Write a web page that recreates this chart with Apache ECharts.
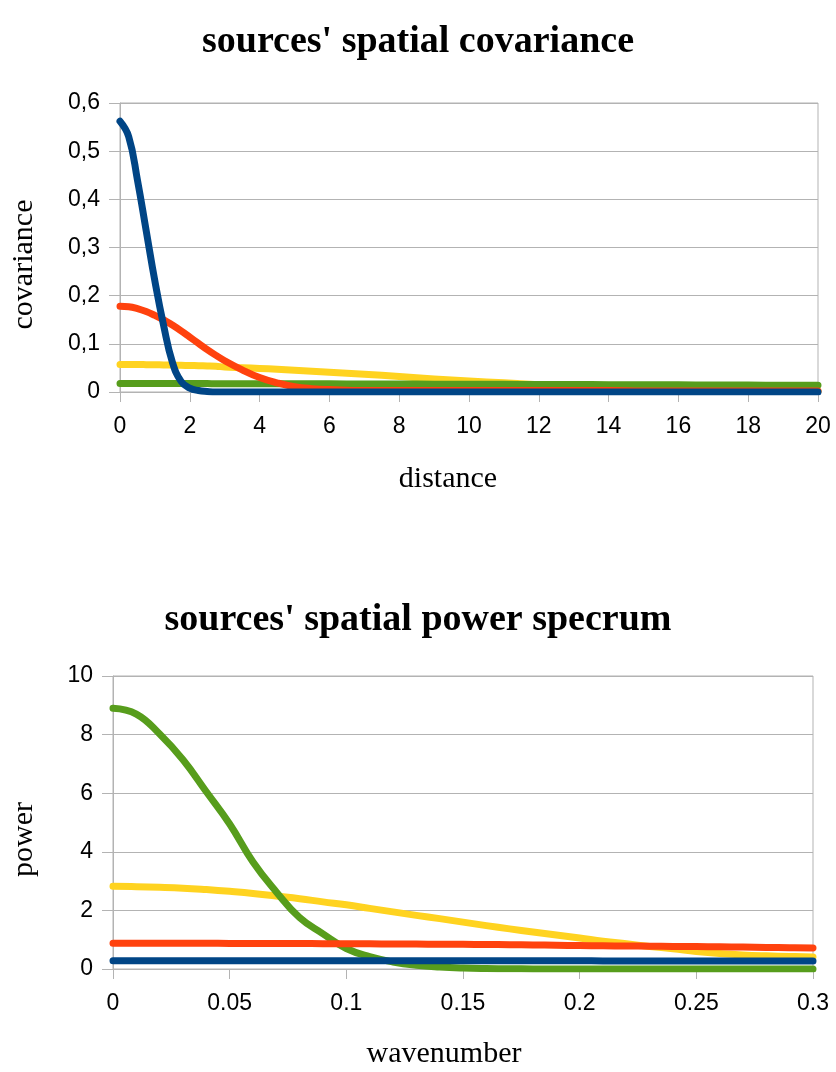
<!DOCTYPE html>
<html>
<head>
<meta charset="utf-8">
<script src="https://cdn.jsdelivr.net/npm/echarts@6/dist/echarts.min.js"></script>
<style>
    html, body { margin: 0; padding: 0; background: #fff; }
    #chart { width: 836px; height: 1072px; }
</style>
</head>
<body>
<div id="chart"></div>
<script>
// top chart: covariance vs distance
const distance = [0, 0.25, 0.5, 0.75, 1, 1.25, 1.5, 1.75, 2, 2.25, 2.5, 2.75, 3, 3.5, 4, 4.5, 5, 5.5, 6, 7, 8, 9, 10, 11, 12, 13, 14, 15, 16, 17, 18, 19, 20];
const covYellow = [0.057, 0.057, 0.057, 0.0568, 0.0565, 0.0562, 0.0558, 0.0553, 0.055, 0.0545, 0.054, 0.0533, 0.052, 0.0505, 0.049, 0.047, 0.045, 0.043, 0.041, 0.037, 0.032, 0.027, 0.023, 0.019, 0.015, 0.012, 0.010, 0.007, 0.005, 0.004, 0.003, 0.002, 0.0015];
const covGreen = [0.0175, 0.0175, 0.0175, 0.0175, 0.0175, 0.0175, 0.0175, 0.0174, 0.0174, 0.0174, 0.0174, 0.0173, 0.0173, 0.0173, 0.0172, 0.0171, 0.0171, 0.017, 0.0169, 0.0168, 0.0165, 0.0163, 0.0161, 0.0159, 0.0157, 0.0155, 0.0153, 0.015, 0.0148, 0.0146, 0.0143, 0.0141, 0.0138];
const covOrange = [0.178, 0.177, 0.173, 0.167, 0.159, 0.150, 0.139, 0.127, 0.114, 0.101, 0.088, 0.076, 0.065, 0.046, 0.030, 0.019, 0.011, 0.007, 0.005, 0.003, 0.003, 0.003, 0.003, 0.003, 0.003, 0.003, 0.003, 0.002, 0.002, 0.002, 0.002, 0.002, 0.002];
const covBlue = [0.562, 0.53, 0.44, 0.335, 0.23, 0.138, 0.062, 0.022, 0.008, 0.003, 0.001, 0, 0, 0, 0, 0, 0, 0, 0, 0, 0, 0, 0, 0, 0, 0, 0, 0, 0, 0, 0, 0, 0];

// bottom chart: power vs wavenumber
const wavenumber = [0, 0.01, 0.02, 0.03, 0.04, 0.05, 0.06, 0.07, 0.08, 0.09, 0.1, 0.11, 0.12, 0.13, 0.14, 0.15, 0.16, 0.17, 0.18, 0.19, 0.2, 0.21, 0.22, 0.23, 0.24, 0.25, 0.26, 0.27, 0.28, 0.29, 0.3];
const powYellow = [2.82, 2.81, 2.79, 2.76, 2.71, 2.65, 2.58, 2.49, 2.40, 2.29, 2.19, 2.07, 1.95, 1.83, 1.72, 1.60, 1.48, 1.37, 1.26, 1.16, 1.06, 0.95, 0.86, 0.77, 0.69, 0.6, 0.53, 0.48, 0.45, 0.43, 0.41];
const powGreen = [8.9, 8.7, 8.02, 7.14, 6.05, 4.95, 3.65, 2.63, 1.75, 1.2, 0.7, 0.42, 0.24, 0.13, 0.07, 0.035, 0.017, 0.008, 0.004, 0.002, 0.002, 0.001, 0.001, 0, 0, 0, 0, 0, 0, 0, 0];
const powOrange = [0.88, 0.88, 0.88, 0.878, 0.876, 0.874, 0.872, 0.87, 0.868, 0.865, 0.862, 0.858, 0.854, 0.85, 0.846, 0.842, 0.836, 0.83, 0.822, 0.812, 0.80, 0.792, 0.786, 0.78, 0.772, 0.764, 0.756, 0.748, 0.738, 0.728, 0.718];
const powBlue = [0.28, 0.28, 0.28, 0.28, 0.28, 0.28, 0.28, 0.28, 0.28, 0.28, 0.28, 0.28, 0.28, 0.28, 0.28, 0.28, 0.28, 0.28, 0.278, 0.278, 0.278, 0.277, 0.277, 0.276, 0.276, 0.275, 0.275, 0.274, 0.274, 0.273, 0.273];

const colors = { yellow: "#ffd320", green: "#579d1c", orange: "#ff420e", blue: "#004586" };
const gridGray = "#b3b3b3";

const chart = echarts.init(document.getElementById("chart"));

function pairs(xs, ys) {
    return xs.map((x, i) => [x, ys[i]]);
}

function line(name, xs, ys, color, idx) {
    return {
        name: name,
        type: "line",
        xAxisIndex: idx,
        yAxisIndex: idx,
        data: pairs(xs, ys),
        showSymbol: false,
        smooth: 0.45,
        lineStyle: { color: color, width: 7, cap: "round", join: "round" },
        itemStyle: { color: color },
        z: 2,
    };
}

const labelStyle = { color: "#000", fontFamily: "Liberation Sans", fontSize: 23 };
const nameStyle = { color: "#000", fontFamily: "Liberation Serif", fontSize: 30 };

function xAxis(idx, max, interval, name, fmt, gap, pad) {
    return {
        type: "value", gridIndex: idx, min: 0, max: max, interval: interval,
        name: name, nameLocation: "middle", nameGap: gap,
        nameTextStyle: Object.assign({ padding: pad }, nameStyle),
        axisLine: { show: true, lineStyle: { color: gridGray } },
        axisTick: { show: true, length: 10, lineStyle: { color: gridGray } },
        axisLabel: Object.assign({ margin: 23, formatter: fmt }, labelStyle),
        splitLine: { show: false },
    };
}

function yAxis(idx, max, interval, name, fmt, gap, pad) {
    return {
        type: "value", gridIndex: idx, min: 0, max: max, interval: interval,
        name: name, nameLocation: "middle", nameGap: gap,
        nameTextStyle: Object.assign({ padding: pad }, nameStyle),
        axisLine: { show: true, lineStyle: { color: gridGray } },
        axisTick: { show: true, length: 11, lineStyle: { color: gridGray } },
        axisLabel: Object.assign({ margin: 20, formatter: fmt }, labelStyle),
        splitLine: { show: true, lineStyle: { color: gridGray, width: 1 } },
    };
}

const titleStyle = { color: "#000", fontFamily: "Liberation Serif", fontWeight: "bold", fontSize: 38 };

chart.setOption({
    animation: false,
    backgroundColor: "#fff",
    title: [
        { text: "sources' spatial covariance", left: "center", top: 18, textStyle: titleStyle },
        { text: "sources' spatial power specrum", left: "center", top: 596, textStyle: titleStyle },
    ],
    grid: [
        { left: 120, right: 18, top: 103, height: 289, show: true, borderColor: gridGray, borderWidth: 1 },
        { left: 113, right: 23, top: 676, height: 293, show: true, borderColor: gridGray, borderWidth: 1 },
    ],
    xAxis: [
        xAxis(0, 20, 2, "distance", (v) => String(v), 72, [0, 42, 0, 0]),
        xAxis(1, 0.3, 0.05, "wavenumber", (v) => String(Math.round(v * 100) / 100), 70, [0, 38, 0, 0]),
    ],
    yAxis: [
        yAxis(0, 0.6, 0.1, "covariance", (v) => String(Math.round(v * 10) / 10).replace(".", ","), 81, [0, 34, 0, 0]),
        yAxis(1, 10, 2, "power", (v) => String(v), 74, [0, 34, 0, 0]),
    ],
    series: [
        line("yellow", distance, covYellow, colors.yellow, 0),
        line("green", distance, covGreen, colors.green, 0),
        line("orange", distance, covOrange, colors.orange, 0),
        line("blue", distance, covBlue, colors.blue, 0),
        line("yellow", wavenumber, powYellow, colors.yellow, 1),
        line("green", wavenumber, powGreen, colors.green, 1),
        line("orange", wavenumber, powOrange, colors.orange, 1),
        line("blue", wavenumber, powBlue, colors.blue, 1),
    ],
});
</script>
</body>
</html>
